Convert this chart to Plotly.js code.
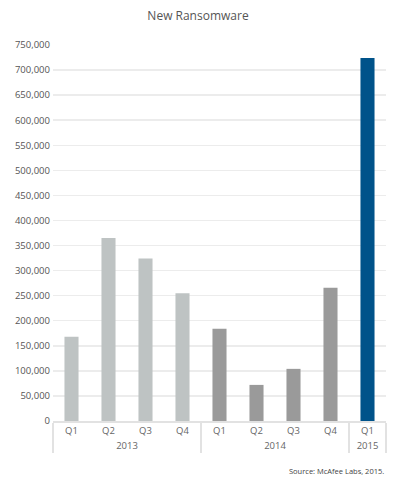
<!DOCTYPE html>
<html>
<head>
<meta charset="utf-8">
<script src="https://cdn.plot.ly/plotly-3.0.1.min.js"></script>
<style>html,body{margin:0;padding:0;background:#fff;}#chart{width:400px;height:486px;}</style>
</head>
<body>
<div id="chart"></div>
<script>
var years = ["2013","2013","2013","2013","2014","2014","2014","2014","2015"];
var quarters = ["Q1","Q2","Q3","Q4","Q1","Q2","Q3","Q4","Q1"];
var values = [168000, 365000, 324000, 255000, 184000, 72000, 104000, 266000, 724000];
var yTicks = [0,50000,100000,150000,200000,250000,300000,350000,400000,450000,500000,550000,600000,650000,700000,750000];
var yearColors = {"2013":"#bec3c3","2014":"#9a9a9a","2015":"#00538a"};

var trace = {
  type: "bar",
  x: [years, quarters],
  y: values,
  marker: {color: years.map(function(y){return yearColors[y];})},
  width: 0.38,
  hoverinfo: "none"
};

var layout = {
  width: 400, height: 486,
  margin: {l: 53, r: 14, t: 45, b: 65},
  paper_bgcolor: "#fff", plot_bgcolor: "#fff",
  font: {family: "Open Sans, sans-serif", color: "#555"},
  title: {text: "New Ransomware", x: 0.495, xanchor: "center", y: 0.967, yanchor: "middle", font: {size: 12, color: "#555"}},
  showlegend: false,
  xaxis: {
    type: "multicategory",
    showline: true, linecolor: "#e2e2e2", linewidth: 1.5,
    showdividers: true, dividercolor: "#e2e2e2", dividerwidth: 1.5,
    tickfont: {size: 9.5, color: "#666"},
    ticks: "", showgrid: false
  },
  yaxis: {
    range: [0, 750000],
    tickvals: yTicks,
    ticktext: yTicks.map(function(v){return v.toLocaleString("en-US");}),
    tickfont: {size: 9.5, color: "#555"},
    showgrid: true, gridcolor: "#ececec", gridwidth: 1.5,
    zeroline: false, showline: false, ticks: "", ticklen: 0,
    ticklabelstandoff: 2
  },
  annotations: [{
    text: "Source: McAfee Labs, 2015.", xref: "paper", yref: "paper",
    x: 1, y: -0.133, xanchor: "right", yanchor: "middle", showarrow: false,
    font: {size: 7.5, color: "#444"}
  }]
};

Plotly.newPlot("chart", [trace], layout, {displayModeBar: false, staticPlot: true});
</script>
</body>
</html>
